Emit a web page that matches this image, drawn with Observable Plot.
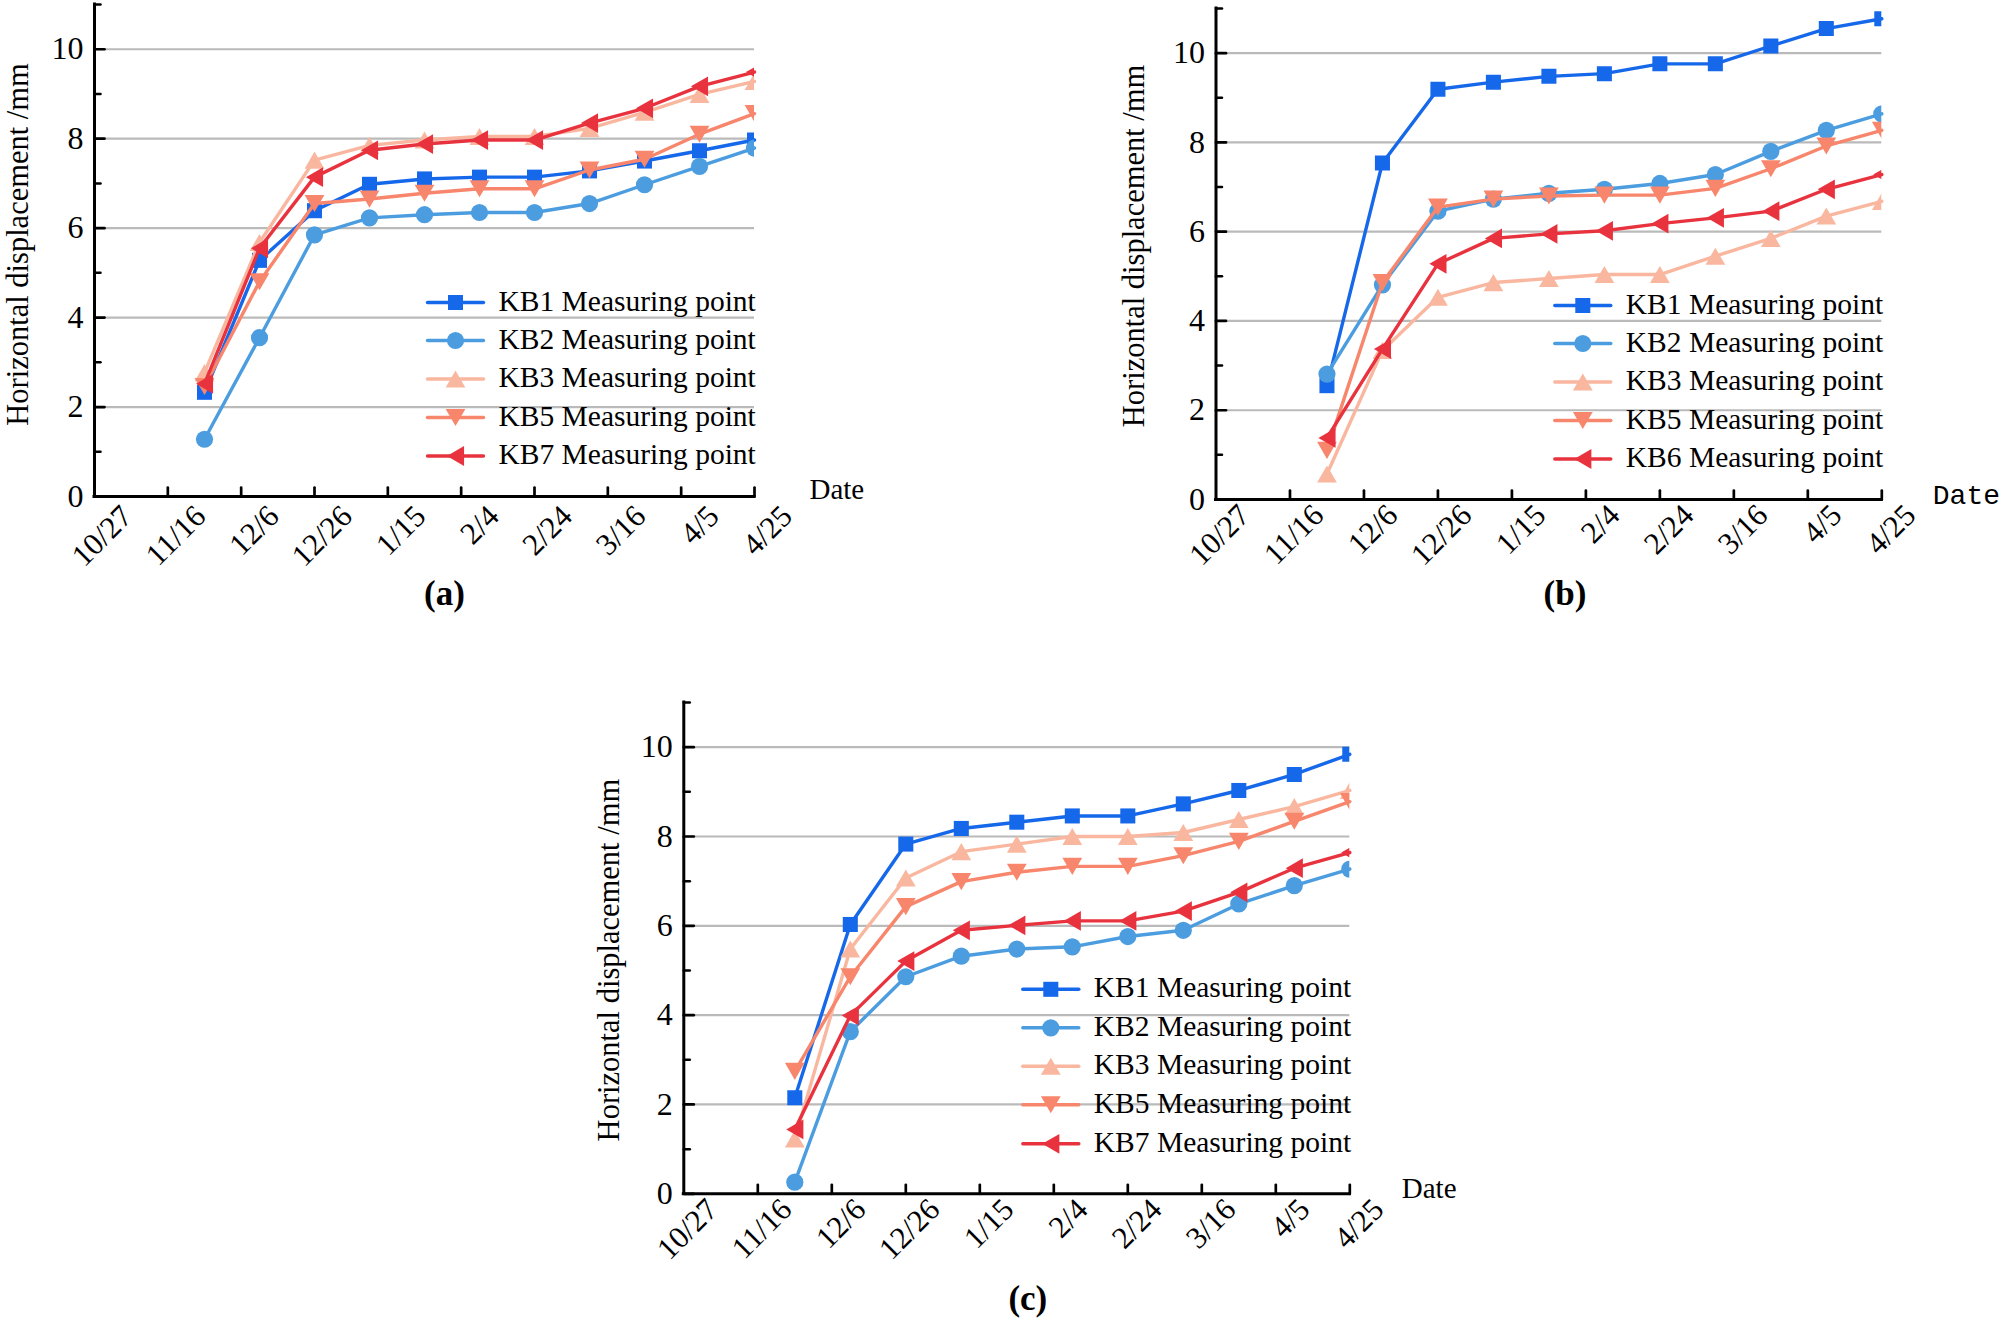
<!DOCTYPE html>
<html><head><meta charset="utf-8">
<script src="https://cdn.jsdelivr.net/npm/d3@7"></script>
<script src="https://cdn.jsdelivr.net/npm/@observablehq/plot@0.6"></script>
<style>
body{margin:0;background:#fff;}
#wrap{position:relative;width:2000px;height:1324px;overflow:hidden;background:#fff;}
#wrap svg{position:absolute;overflow:visible;}
</style></head><body><div id="wrap"></div>
<script>
// ---- data ----
const pointDates = ["2021-11-26","2021-12-11","2021-12-26","2022-01-10","2022-01-25","2022-02-09","2022-02-24","2022-03-11","2022-03-26","2022-04-10","2022-04-25"];
const tickDates = ["2021-10-27","2021-11-16","2021-12-06","2021-12-26","2022-01-15","2022-02-04","2022-02-24","2022-03-16","2022-04-05","2022-04-25"];
const tickLabels = ["10/27","11/16","12/6","12/26","1/15","2/4","2/24","3/16","4/5","4/25"];
const yMajorTicks = [0,2,4,6,8,10];
const yMinorTicks = [1,3,5,7,9,11];
const gridValues = [2,4,6,8,10];
const yTitle = "Horizontal displacement /mm";
const xTitle = "Date";

const seriesA = ["KB1 Measuring point","KB2 Measuring point","KB3 Measuring point","KB5 Measuring point","KB7 Measuring point"];
const seriesB = ["KB1 Measuring point","KB2 Measuring point","KB3 Measuring point","KB5 Measuring point","KB6 Measuring point"];
const seriesC = ["KB1 Measuring point","KB2 Measuring point","KB3 Measuring point","KB5 Measuring point","KB7 Measuring point"];

const a_KB1 = [2.33,5.28,6.39,6.98,7.10,7.14,7.14,7.28,7.50,7.73,7.97];
const a_KB2 = [1.28,3.55,5.85,6.23,6.30,6.35,6.35,6.55,6.97,7.38,7.79];
const a_KB3 = [2.77,5.68,7.52,7.85,7.97,8.05,8.05,8.23,8.59,8.99,9.28];
const a_KB5 = [2.46,4.80,6.55,6.65,6.78,6.88,6.88,7.30,7.54,8.10,8.56];
const a_KB7 = [2.52,5.55,7.14,7.74,7.88,7.97,7.97,8.35,8.68,9.17,9.49];

const b_KB1 = [2.55,7.54,9.19,9.35,9.48,9.54,9.76,9.76,10.16,10.55,10.77];
const b_KB2 = [2.81,4.81,6.46,6.73,6.86,6.95,7.08,7.28,7.80,8.27,8.64];
const b_KB3 = [0.57,3.34,4.53,4.86,4.95,5.04,5.04,5.45,5.85,6.35,6.68];
const b_KB5 = [1.10,4.86,6.55,6.73,6.80,6.82,6.82,6.97,7.41,7.92,8.27];
const b_KB6 = [1.38,3.37,5.28,5.85,5.95,6.02,6.18,6.31,6.46,6.95,7.28];

const c_KB1 = [2.15,6.03,7.83,8.18,8.32,8.46,8.46,8.73,9.03,9.39,9.84];
const c_KB2 = [0.26,3.63,4.86,5.32,5.48,5.53,5.76,5.90,6.49,6.90,7.27];
const c_KB3 = [1.23,5.48,7.07,7.66,7.83,8.00,8.00,8.09,8.38,8.67,9.03];
const c_KB5 = [2.74,4.86,6.43,6.99,7.20,7.33,7.33,7.57,7.89,8.34,8.78];
const c_KB7 = [1.44,3.99,5.21,5.90,6.01,6.11,6.11,6.33,6.75,7.29,7.64];

const colors = ["#1668ea","#4b9de0","#fab7a0","#f7866c","#e8333f"];

// ---- symbols ----
function rad(size){ return Math.sqrt(size/Math.PI); }
const symSquare = {draw(c,size){const s=rad(size)*1.75; c.rect(-s/2,-s/2,s,s);}};
const symCircle = {draw(c,size){const r=rad(size); c.moveTo(r,0); c.arc(0,0,r,0,2*Math.PI); c.closePath();}};
const symUp = {draw(c,size){const s=rad(size)*2.3,h=s*0.866; c.moveTo(0,-h/2); c.lineTo(s/2,h/2); c.lineTo(-s/2,h/2); c.closePath();}};
const symDown = {draw(c,size){const s=rad(size)*2.3,h=s*0.866; c.moveTo(0,h/2); c.lineTo(s/2,-h/2); c.lineTo(-s/2,-h/2); c.closePath();}};
const symLeft = {draw(c,size){const s=rad(size)*2.3,h=s*0.866; c.moveTo(-h/2,0); c.lineTo(h/2,-s/2); c.lineTo(h/2,s/2); c.closePath();}};
const symbols = [symSquare, symCircle, symUp, symDown, symLeft];
const lineShape = {draw(c,l){c.moveTo(0,0); c.lineTo(0,-l);}};

const parse = d3.utcParse("%Y-%m-%d");
const serif = "'Liberation Serif','Times New Roman',serif";
const R = 8.6;

function makePanel(cfg){
  const ticks = tickDates.map((d,i)=>({date: parse(d), label: tickLabels[i]}));
  const marks = [];
  marks.push(Plot.ruleY(gridValues, {y: d=>d, stroke:"#bababa", strokeWidth:2.2}));
  cfg.values.forEach((vals,k)=>{
    const data = vals.map((v,i)=>({date: parse(pointDates[i]), value: v}));
    marks.push(Plot.line(data, {x:"date", y:"value", stroke: colors[k], strokeWidth:3.4}));
    marks.push(Plot.dot(data, {x:"date", y:"value", fill: colors[k], stroke:"none", r:R, symbol: symbols[k], clip:true}));
  });
  // axes lines
  marks.push(Plot.ruleX([parse(tickDates[0])], {x:d=>d, stroke:"black", strokeWidth:3, strokeLinecap:"square"}));
  marks.push(Plot.ruleY([0], {y:d=>d, stroke:"black", strokeWidth:3, strokeLinecap:"square"}));
  // ticks (inside)
  marks.push(Plot.vector(ticks.slice(1), {x:"date", frameAnchor:"bottom", length:9, rotate:0, anchor:"start", shape:lineShape, stroke:"black", strokeWidth:2.7}));
  marks.push(Plot.vector(yMajorTicks, {y:d=>d, frameAnchor:"left", length:10, rotate:90, anchor:"start", shape:lineShape, stroke:"black", strokeWidth:2.7}));
  marks.push(Plot.vector(yMinorTicks, {y:d=>d, frameAnchor:"left", length:6, rotate:90, anchor:"start", shape:lineShape, stroke:"black", strokeWidth:2.5}));
  // tick labels
  marks.push(Plot.text(yMajorTicks, {y:d=>d, frameAnchor:"left", dx:-11, textAnchor:"end", text:d=>String(d), fontSize:32}));
  marks.push(Plot.text(ticks, {x:"date", frameAnchor:"bottom", rotate:-45, textAnchor:"end", lineAnchor:"top", dx:cfg.tickDx, dy:cfg.tickDy, text:"label", fontSize:31}));
  // titles
  marks.push(Plot.text([yTitle], {frameAnchor:"left", dx:cfg.titleDx, dy:cfg.titleDy, rotate:-90, textAnchor:"middle", lineAnchor:"middle", text:d=>d, fontSize:30.5}));
  marks.push(Plot.text([xTitle], {frameAnchor:"bottom-right", dx:cfg.dateDx, dy:cfg.dateDy, textAnchor:"start", lineAnchor:"bottom", text:d=>d, fontSize:cfg.dateSize, fontFamily:cfg.dateFont}));
  marks.push(Plot.text([cfg.label], {frameAnchor:"bottom", dx:cfg.labelDx, dy:cfg.labelDy, textAnchor:"middle", text:d=>d, fontSize:35, fontWeight:"bold"}));
  // legend
  cfg.series.forEach((name,k)=>{
    const dy = cfg.legendDy[k];
    marks.push(Plot.vector([0], {frameAnchor:"bottom-right", dx:-327, dy, length:56, rotate:90, anchor:"start", shape:lineShape, stroke:colors[k], strokeWidth:3.4}));
    marks.push(Plot.dot([0], {frameAnchor:"bottom-right", dx:-299, dy, r:R, symbol:symbols[k], fill:colors[k], stroke:"none"}));
    marks.push(Plot.text([name], {frameAnchor:"bottom-right", dx:-256, dy: dy + 8, textAnchor:"start", text:d=>d, fontSize:29.5}));
  });
  const svg = Plot.plot({
    width: cfg.width, height: cfg.height,
    marginLeft: cfg.ml, marginRight: cfg.mr, marginTop: cfg.mt, marginBottom: cfg.mb,
    x: {type:"utc", domain:[parse(tickDates[0]), parse(tickDates[tickDates.length-1])], axis:null},
    y: {domain:[0,11], axis:null},
    style: {fontFamily: serif, fontSize:"30px", color:"black", background:"transparent", overflow:"visible"},
    marks
  });
  svg.style.left = cfg.left + "px";
  svg.style.top = cfg.top + "px";
  document.getElementById("wrap").appendChild(svg);
}

const legendAB = [-194,-156,-117.5,-79,-40.5];
const legendC = [-204.5,-166,-127.5,-89,-50];

makePanel({label:"(a)", series:seriesA, values:[a_KB1,a_KB2,a_KB3,a_KB5,a_KB7],
  left:0, top:0, width:900, height:640, ml:94, mr:146, mt:4, mb:144,
  tickDx:24, tickDy:6, titleDx:-76, titleDy:-6, dateDx:55, dateDy:2, dateSize:29, dateFont:serif,
  labelDx:20, labelDy:108, legendDy:legendAB});

makePanel({label:"(b)", series:seriesB, values:[b_KB1,b_KB2,b_KB3,b_KB5,b_KB6],
  left:1100, top:0, width:900, height:640, ml:115.5, mr:118.7, mt:8, mb:141,
  tickDx:20, tickDy:2, titleDx:-82, titleDy:-8, dateDx:51, dateDy:4, dateSize:28, dateFont:"'Liberation Mono',monospace",
  labelDx:16, labelDy:105, legendDy:legendAB});

makePanel({label:"(c)", series:seriesC, values:[c_KB1,c_KB2,c_KB3,c_KB5,c_KB7],
  left:560, top:690, width:900, height:634, ml:123.3, mr:110.7, mt:12, mb:130.7,
  tickDx:20, tickDy:2, titleDx:-75, titleDy:12, dateDx:52, dateDy:4, dateSize:29, dateFont:serif,
  labelDx:11, labelDy:116, legendDy:legendC});
</script></body></html>
